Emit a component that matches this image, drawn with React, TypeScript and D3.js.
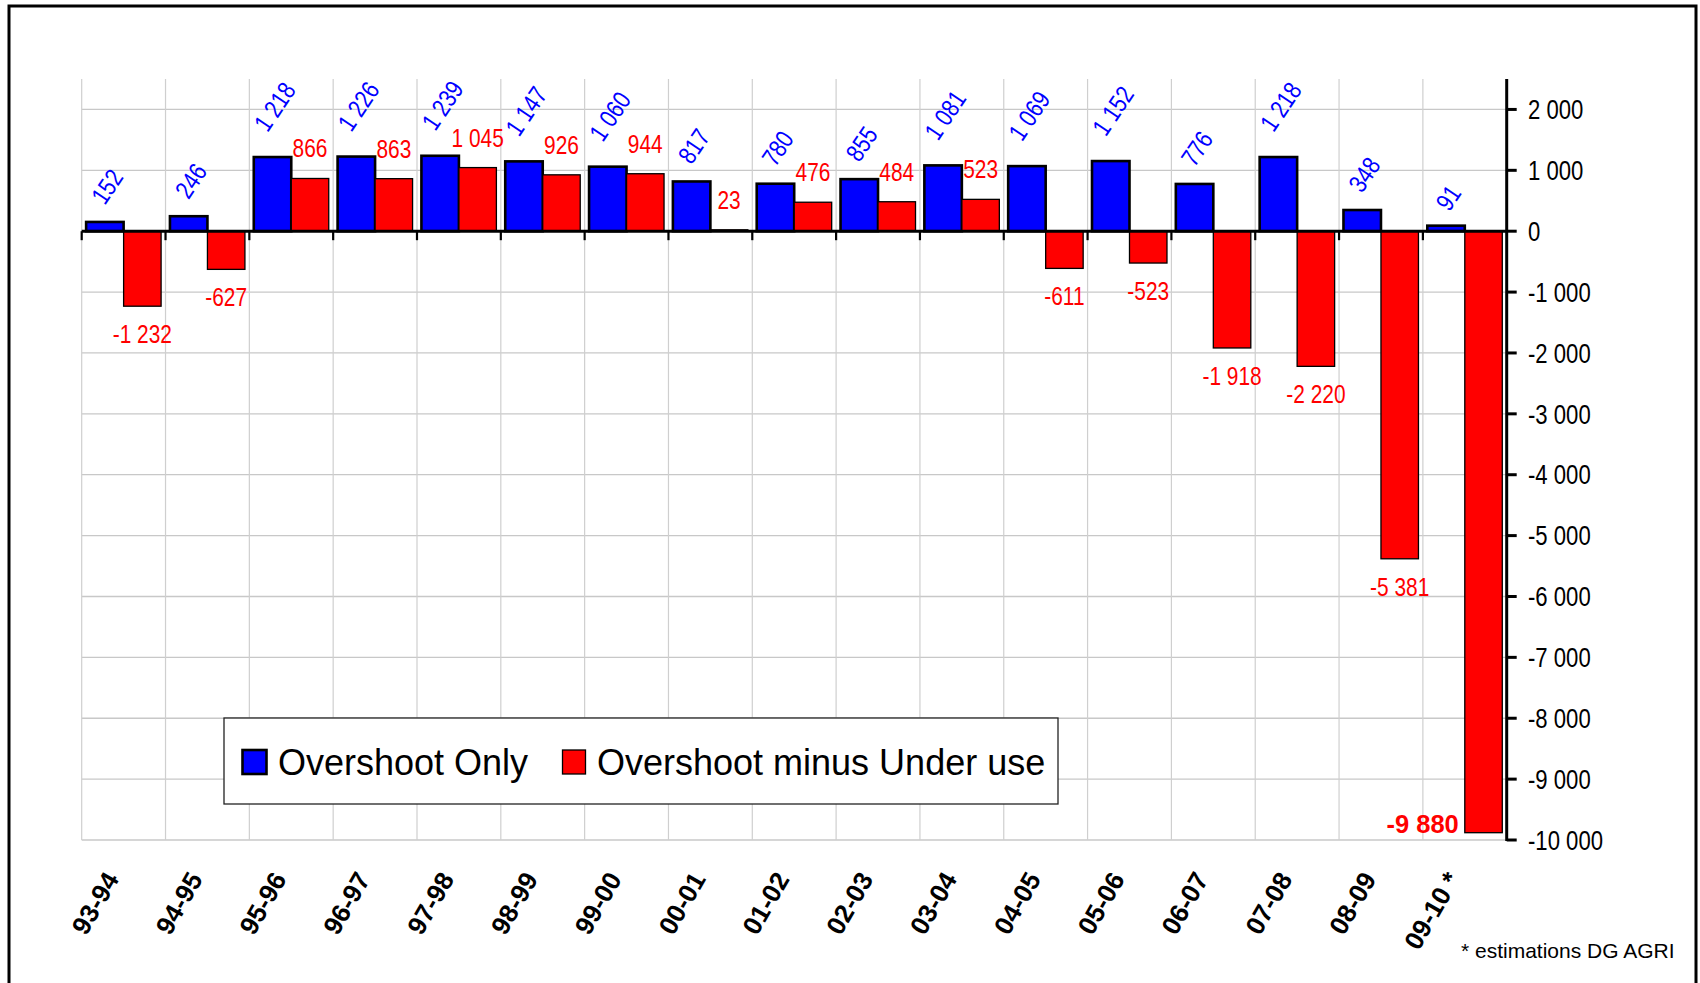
import React from "react";
import * as d3 from "d3";

// campaigns (the last one is an estimate)
const categories = [
  "93-94", "94-95", "95-96", "96-97", "97-98", "98-99", "99-00", "00-01", "01-02",
  "02-03", "03-04", "04-05", "05-06", "06-07", "07-08", "08-09", "09-10 *",
];
const overshootOnly = [152, 246, 1218, 1226, 1239, 1147, 1060, 817, 780, 855, 1081, 1069, 1152, 776, 1218, 348, 91];
const overshootMinusUnder = [-1232, -627, 866, 863, 1045, 926, 944, 23, 476, 484, 523, -611, -523, -1918, -2220, -5381, -9880];
const yTicks = [2000, 1000, 0, -1000, -2000, -3000, -4000, -5000, -6000, -7000, -8000, -9000, -10000];
const seriesNames = ["Overshoot Only", "Overshoot minus Under use"];

const W = 1700;
const H = 983;
const plot = { left: 81.7, right: 1506.7, top: 79, bottom: 840 };
const BLUE = "#0000ff";
const RED = "#ff0000";
const ARIAL = "'Liberation Sans', Arial, sans-serif";
const NARROW_X = 0.82; // no narrow face installed, so squeeze Liberation Sans

const fmt = d3.formatLocale({ decimal: ",", thousands: " ", grouping: [3], currency: ["", ""], minus: "-" }).format(",d");

export default function App() {
  const x = d3.scaleBand().domain(categories).range([plot.left, plot.right]).padding(0);
  const inner = d3.scaleBand().domain(["a", "b"]).range([0, x.bandwidth()]).paddingInner(0).paddingOuter(0.118);
  const y = d3.scaleLinear().domain([-10000, 2500]).range([plot.bottom, plot.top]);
  const bw = inner.bandwidth();
  const last = categories.length - 1;

  return (
    <div style={{ position: "absolute", left: 0, top: 0 }}>
      <svg width={W} height={H} style={{ display: "block", background: "#fff" }}>
        <rect x={9} y={6} width={1687} height={1010} fill="#fff" stroke="#000" strokeWidth={3} />

        {/* grid */}
        {yTicks.map((t) => (
          <line key={"h" + t} x1={plot.left} x2={plot.right} y1={y(t)} y2={y(t)} stroke="#c8c8c8" strokeWidth={1.3} />
        ))}
        {categories.map((c) => (
          <line key={"v" + c} x1={x(c)} x2={x(c)} y1={plot.top} y2={plot.bottom} stroke="#cfcfcf" strokeWidth={1.2} />
        ))}

        {/* bars */}
        {categories.map((c, i) => {
          const vb = overshootOnly[i];
          const vr = overshootMinusUnder[i];
          const xb = (x(c) as number) + (inner("a") as number);
          const xr = (x(c) as number) + (inner("b") as number);
          return (
            <g key={"b" + c}>
              <rect x={xb} y={y(Math.max(0, vb))} width={bw} height={Math.abs(y(vb) - y(0))} fill={BLUE} stroke="#000" strokeWidth={2.6} />
              <rect x={xr} y={y(Math.max(0, vr))} width={bw} height={Math.max(1, Math.abs(y(vr) - y(0)))} fill={RED} stroke="#000" strokeWidth={1.3} />
            </g>
          );
        })}

        {/* zero line with ticks */}
        <line x1={plot.left} x2={plot.right} y1={y(0)} y2={y(0)} stroke="#000" strokeWidth={3} />
        {categories.map((c) => (
          <line key={"t" + c} x1={x(c)} x2={x(c)} y1={y(0)} y2={y(0) + 9} stroke="#000" strokeWidth={2.2} />
        ))}

        {/* right axis */}
        <line x1={plot.right} x2={plot.right} y1={plot.top} y2={plot.bottom + 1} stroke="#000" strokeWidth={3} />
        {yTicks.map((t) => (
          <g key={"yt" + t}>
            <line x1={plot.right} x2={plot.right + 10} y1={y(t)} y2={y(t)} stroke="#000" strokeWidth={3} />
            <text transform={`translate(1528,${y(t)}) scale(${NARROW_X},1)`} dy="0.36em" fontFamily={ARIAL} fontSize={27} fill="#000">
              {fmt(t)}
            </text>
          </g>
        ))}

        {/* blue labels */}
        {categories.map((c, i) => {
          const v = overshootOnly[i];
          const s = fmt(v);
          const cx = (x(c) as number) + (inner("a") as number) + bw / 2 + 2;
          const cy = y(v) - (13 + 7.5 * s.length);
          return (
            <text key={"lb" + c} transform={`translate(${cx},${cy}) rotate(-56) scale(${NARROW_X},1)`} textAnchor="middle" dy="0.36em"
              fontFamily={ARIAL} fontSize={25.5} fill={BLUE}>
              {s}
            </text>
          );
        })}

        {/* red labels */}
        {categories.map((c, i) => {
          const v = overshootMinusUnder[i];
          const xr = (x(c) as number) + (inner("b") as number);
          if (i === last) {
            return (
              <text key={"lr" + c} x={xr - 6} y={y(v)} textAnchor="end" fontFamily={ARIAL} fontWeight="bold" fontSize={25.5} fill={RED}>
                {fmt(v)}
              </text>
            );
          }
          const ty = v >= 0 ? y(v) - 21 : y(v) + 37;
          return (
            <text key={"lr" + c} transform={`translate(${xr + bw / 2},${ty}) scale(${NARROW_X},1)`} textAnchor="middle"
              fontFamily={ARIAL} fontSize={25.5} fill={RED}>
              {fmt(v)}
            </text>
          );
        })}

        {/* category labels */}
        {categories.map((c) => {
          const ax = (x(c) as number) + x.bandwidth() / 2 - 4;
          return (
            <text key={"c" + c} transform={`translate(${ax},879) rotate(-60)`} textAnchor="end"
              fontFamily={ARIAL} fontWeight="bold" fontSize={26} fill="#000">
              {c}
            </text>
          );
        })}

        {/* legend */}
        <rect x={224} y={718} width={834} height={86} fill="#fff" stroke="#222" strokeWidth={1.3} />
        <rect x={242.5} y={750} width={24} height={24} fill={BLUE} stroke="#000" strokeWidth={2.6} />
        <text x={278} y={775} fontFamily={ARIAL} fontSize={36} fill="#000">{seriesNames[0]}</text>
        <rect x={562.5} y={750} width={23} height={24} fill={RED} stroke="#000" strokeWidth={1.3} />
        <text x={597} y={775} fontFamily={ARIAL} fontSize={36} fill="#000">{seriesNames[1]}</text>

        <text x={1461} y={958} fontFamily={ARIAL} fontSize={21} fill="#000">* estimations DG AGRI</text>
      </svg>
    </div>
  );
}
